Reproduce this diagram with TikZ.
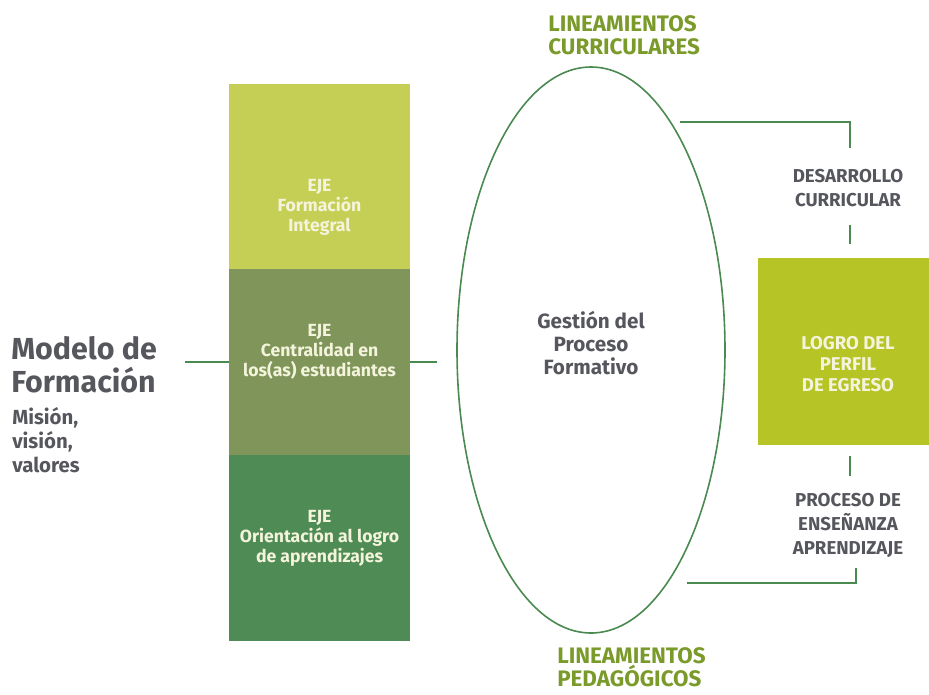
\documentclass[tikz,border=0pt]{standalone}
\usepackage{fontspec}
\usetikzlibrary{shapes.geometric}
\setmainfont{Fira Sans}
\definecolor{boxA}{HTML}{C6CF55}
\definecolor{boxB}{HTML}{7F955A}
\definecolor{boxC}{HTML}{4E8B55}
\definecolor{logro}{HTML}{B6C425}
\definecolor{linegreen}{HTML}{4A8A50}
\definecolor{txtgray}{HTML}{56575D}
\definecolor{olive}{HTML}{7A9A2A}
\definecolor{boxtxt}{HTML}{F4F4DC}
\begin{document}
\begin{tikzpicture}[x=0.75pt,y=-0.75pt,
  eje/.style={rectangle,minimum width=136pt,minimum height=139.5pt,inner sep=0pt},
  ejetext/.style={align=center,text=boxtxt,inner sep=0pt,font=\bfseries\fontsize{13.2}{15}\selectfont},
  conn/.style={draw=linegreen,line width=1.5pt},
  side/.style={align=center,text=txtgray,font=\bfseries\fontsize{14}{18}\selectfont},
  linea/.style={align=left,anchor=north west,text=olive,font=\bfseries\fontsize{16.8}{17.3}\selectfont,inner sep=0pt}]
\useasboundingbox (0,0) rectangle (929,694);
% axis boxes
\node[eje,fill=boxA] (b1) at (319.5,176.5) {};
\node[eje,fill=boxB] (b2) at (319.5,362) {};
\node[eje,fill=boxC] (b3) at (319.5,548) {};
\node[ejetext] (b1t) at (319.5,207) {EJE\\Formación\\Integral};
\node[ejetext] (b2t) at (319.5,352) {EJE\\Centralidad en\\los(as) estudiantes};
\node[ejetext] (b3t) at (319.5,538) {EJE\\Orientación al logro\\de aprendizajes};
% model text
\node[anchor=base west,inner sep=0pt,align=left,text=txtgray,font=\bfseries\fontsize{22.8}{24.75}\selectfont] (modelo) at (11,392) {Modelo de\\Formación};
\node[anchor=base west,inner sep=0pt,align=left,text=txtgray,font=\bfseries\fontsize{15.3}{18}\selectfont] (mision) at (12,472) {Misión,\\visión,\\valores};
% ellipse
\node[draw=linegreen,line width=1.2pt,ellipse,minimum width=201pt,minimum height=424.5pt,inner sep=0pt] (ell) at (591,350) {};
\node[align=center,text=txtgray,font=\bfseries\fontsize{15.5}{17.3}\selectfont] (gest) at (591,343) {Gestión del\\Proceso\\Formativo};
% logro box
\node[rectangle,fill=logro,minimum width=128.25pt,minimum height=140.25pt,inner sep=0pt] (lg) at (843.5,351.5) {};
\node[align=center,inner sep=0pt,text=boxtxt,font=\bfseries\fontsize{13.9}{15.6}\selectfont] (lgt) at (848,364) {LOGRO DEL\\PERFIL\\DE EGRESO};
% side labels
\node[side] (des) at (848,188) {DESARROLLO\\CURRICULAR};
\node[side] (pro) at (848,525) {PROCESO DE\\ENSEÑANZA\\APRENDIZAJE};
% lineamientos
\node[linea] (lc) at (548,15) {LINEAMIENTOS\\CURRICULARES};
\node[linea] (lp) at (557,647) {LINEAMIENTOS\\PEDAGÓGICOS};
% connectors
\coordinate (ml) at (185,362);
\coordinate (er) at (437,362);
\draw[conn] (ml) -- (b2.west);
\draw[conn] (b2.east) -- (er);
\coordinate (t1) at (680,122);
\coordinate (t2) at (850,122);
\coordinate (t3) at (850,148);
\draw[conn] (t1) -- (t2) -- (t3);
\coordinate (s1) at (850,225);
\coordinate (s2) at (850,244);
\draw[conn] (s1) -- (s2);
\coordinate (s3) at (850,456);
\coordinate (s4) at (850,476);
\draw[conn] (s3) -- (s4);
\coordinate (u1) at (856,568);
\coordinate (u2) at (856,583);
\coordinate (u3) at (687,583);
\draw[conn] (u1) -- (u2) -- (u3);
\end{tikzpicture}
\end{document}
